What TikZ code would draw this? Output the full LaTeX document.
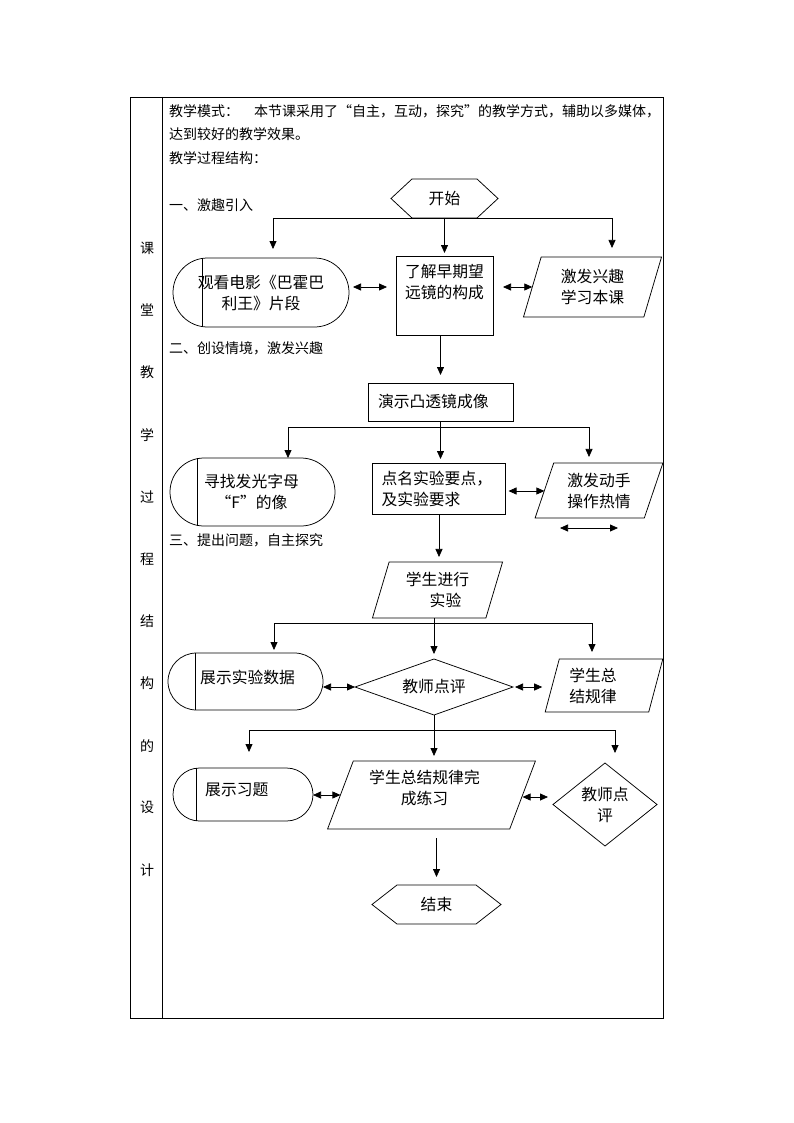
\documentclass[tikz,border=0pt]{standalone}
\usepackage{fontspec}
\setmainfont{Noto Sans CJK SC}
\usetikzlibrary{arrows.meta, shapes.geometric, shapes.misc}

\tikzset{
  cell/.style={draw, line width=0.9pt},
  txt/.style={font=\fontsize{14pt}{17pt}\selectfont, inner sep=0pt, anchor=west},
  flowtxt/.style={font=\fontsize{15.8pt}{21pt}\selectfont, align=center, inner sep=0pt},
  ln/.style={line width=0.75pt},
  procbox/.style={draw, ln, outer sep=0pt, flowtxt},
  termbox/.style={draw, rounded rectangle, ln, outer sep=0pt, flowtxt},
  iobox/.style={draw, trapezium, trapezium stretches=true, ln, outer sep=0pt, flowtxt},
  decbox/.style={draw, diamond, ln, outer sep=0pt, flowtxt},
  hexbox/.style={outer sep=0pt, flowtxt},
  arr/.style={ln, -{Triangle[length=8pt,width=7pt]}},
  dbl/.style={ln, {Triangle[length=8pt,width=7pt]}-{Triangle[length=8pt,width=7pt]}},
}

\begin{document}
\begin{tikzpicture}[x=1pt, y=-1pt]
  \fill[white] (0,0) rectangle (794,1123);
  \useasboundingbox (0,0) rectangle (794,1123);

  % table frame
  \draw[cell] (130,97) rectangle (663,1018);
  \draw[cell] (162,97) -- (162,1018);
  \foreach \ch [count=\i from 0] in {课,堂,教,学,过,程,结,构,的,设,计}
    \node[txt, anchor=center] (col\i) at (147,{248+62.2*\i}) {\ch};

  % heading text
  \node[txt] (mode) at (169,111) {教学模式：\hspace{15pt}本节课采用了“自主，互动，探究”的教学方式，辅助以多媒体，};
  \node[txt] (aim) at (169,134) {达到较好的教学效果。};
  \node[txt] (struct) at (169,158) {教学过程结构：};
  \node[txt] (sec1) at (169,205) {一、激趣引入};
  \node[txt] (sec2) at (169,348) {二、创设情境，激发兴趣};
  \node[txt] (sec3) at (169,540) {三、提出问题，自主探究};

  % start
  \node[hexbox, minimum width=107, minimum height=39] (st) at (444.5,198.5) {开始};
  \draw[ln] (st.west) -- ([xshift=21pt]st.north west) -- ([xshift=-21pt]st.north east) -- (st.east)
    -- ([xshift=-21pt]st.south east) -- ([xshift=21pt]st.south west) -- cycle;

  % row 1
  \node[termbox, minimum width=176, minimum height=69,
    label={[flowtxt]center:观看电影《巴霍巴\\利王》片段}] (t1) at (261,292.5) {};
  \draw[ln] ([xshift=29pt]t1.west |- t1.north) -- ([xshift=29pt]t1.west |- t1.south);
  \node[procbox, minimum width=97, minimum height=79,
    label={[flowtxt, anchor=north, yshift=-8pt]north:了解早期望\\远镜的构成}] (r1) at (444.5,295.5) {};
  \node[iobox, trapezium left angle=73, trapezium right angle=107,
    minimum width=139, minimum height=60] (p1) at (592.5,287) {激发兴趣\\学习本课};

  \coordinate (j1l) at (273,218);
  \coordinate (j1r) at (612,218);
  \draw[ln] (j1l) -- (j1r);
  \draw[arr, shorten >=9pt] (j1l) -- (j1l |- t1.north);
  \draw[arr, shorten >=3pt] (st.south) -- (r1.north);
  \draw[arr, shorten >=9pt] (j1r) -- (j1r |- p1.north);
  \draw[dbl, shorten <=4pt, shorten >=9pt] (t1.east |- 0,287) -- (r1.west |- 0,287);
  \draw[dbl, shorten <=10pt] (r1.east |- 0,287) -- (p1.west |- 0,287);

  % row 2
  \node[procbox, minimum width=145, minimum height=38, text width=125, align=left,
    inner xsep=10pt] (r2) at (440.5,402) {演示凸透镜成像};
  \draw[arr, shorten >=8pt] (r1.south -| r2.north) -- (r2.north);

  \node[termbox, minimum width=165, minimum height=68,
    label={[flowtxt, xshift=-1pt]center:寻找发光字母\\“F”的像}] (t2) at (252.5,492) {};
  \draw[ln] ([xshift=27pt]t2.west |- t2.north) -- ([xshift=27pt]t2.west |- t2.south);
  \node[procbox, minimum width=132, minimum height=51, text width=115, align=left,
    inner xsep=9pt] (r3) at (439,488.5) {点名实验要点，\\及实验要求};
  \node[iobox, trapezium left angle=70, trapezium right angle=110,
    minimum width=128, minimum height=55] (p2) at (599,490.5) {激发动手\\操作热情};

  \coordinate (j2l) at (288,427);
  \coordinate (j2r) at (589,427);
  \draw[ln] (r2.south) -- (r2.south |- j2l);
  \draw[ln] (j2l) -- (j2r);
  \draw[arr] (j2l) -- (j2l |- t2.north);
  \draw[arr, shorten >=4pt] (r2.south |- j2l) -- (r2.south |- r3.north);
  \draw[arr, shorten >=6pt] (j2r) -- (j2r |- p2.north);
  \draw[dbl, shorten <=3pt] (r3.east |- 0,491) -- (p2.west |- 0,491);
  \coordinate (s1) at (560,528);
  \coordinate (s2) at (618,528);
  \draw[dbl] (s1) -- (s2);

  % row 3
  \node[iobox, trapezium left angle=73, trapezium right angle=107,
    minimum width=131, minimum height=56] (p3) at (437.5,590) {学生进行\\\hspace*{16pt}实验};
  \draw[arr, shorten >=5pt] (r3.south) -- (r3.south |- p3.north);

  \node[termbox, minimum width=155, minimum height=57,
    label={[flowtxt, anchor=west, xshift=32pt, yshift=4.5pt]west:展示实验数据}] (t3) at (245.5,681.5) {};
  \draw[ln] ([xshift=27pt]t3.west |- t3.north) -- ([xshift=27pt]t3.west |- t3.south);
  \node[decbox, aspect=2.8, minimum width=158, minimum height=56] (d1) at (434,687) {教师点评};
  \node[iobox, trapezium left angle=63, trapezium right angle=117,
    minimum width=118, minimum height=53,
    label={[flowtxt, xshift=-11pt]center:学生总\\结规律}] (p4) at (604,685.5) {\phantom{学生总}};

  \coordinate (j3l) at (274,623);
  \coordinate (j3r) at (592,623);
  \draw[ln] (d1.north |- p3.south) -- (d1.north |- j3l);
  \draw[ln] (j3l) -- (j3r);
  \draw[arr, shorten >=5pt] (d1.north |- j3l) -- (d1.north);
  \draw[arr, shorten >=3pt] (j3l) -- (j3l |- t3.north);
  \draw[arr, shorten >=7pt] (j3r) -- (j3r |- p4.north);
  \draw[dbl] (t3.east |- d1.west) -- (d1.west);
  \draw[dbl, shorten <=2pt, shorten >=10pt] (d1.east) -- (p4.west |- d1.east);

  % row 4
  \node[termbox, minimum width=140, minimum height=53,
    label={[flowtxt, anchor=west, xshift=32pt, yshift=4.5pt]west:展示习题}] (t4) at (243,794.5) {};
  \draw[ln] ([xshift=23pt]t4.west |- t4.north) -- ([xshift=23pt]t4.west |- t4.south);
  \node[iobox, trapezium left angle=62, trapezium right angle=118,
    minimum width=209, minimum height=68,
    label={[flowtxt, xshift=-7pt, yshift=7.5pt]center:学生总结规律完\\成练习}] (p5) at (431.5,795) {\phantom{学生总}};
  \node[decbox, aspect=1.25, minimum width=104, minimum height=83] (d2) at (605,804.5) {教师点\\评};

  \coordinate (j4l) at (249,730);
  \coordinate (j4r) at (615,730);
  \draw[ln] (d1.south) -- (d1.south |- j4l);
  \draw[ln] (j4l) -- (j4r);
  \draw[arr, shorten >=5pt] (d1.south |- j4l) -- (d1.south |- p5.north);
  \draw[arr, shorten >=16pt] (j4l) -- (j4l |- t4.north);
  \draw[arr, shorten >=10pt] (j4r) -- (j4r |- d2.north);
  \draw[dbl] (t4.east |- 0,795) -- (p5.west |- 0,795);
  \draw[dbl, shorten >=5pt] (p5.east |- 0,797) -- (d2.west |- 0,797);

  % end
  \node[hexbox, minimum width=129, minimum height=39] (en) at (436.5,904.5) {结束};
  \draw[ln] (en.west) -- ([xshift=25pt]en.north west) -- ([xshift=-25pt]en.north east) -- (en.east)
    -- ([xshift=-25pt]en.south east) -- ([xshift=25pt]en.south west) -- cycle;
  \draw[arr, shorten <=9pt, shorten >=8pt] (p5.south -| en.north) -- (en.north);
\end{tikzpicture}
\end{document}
